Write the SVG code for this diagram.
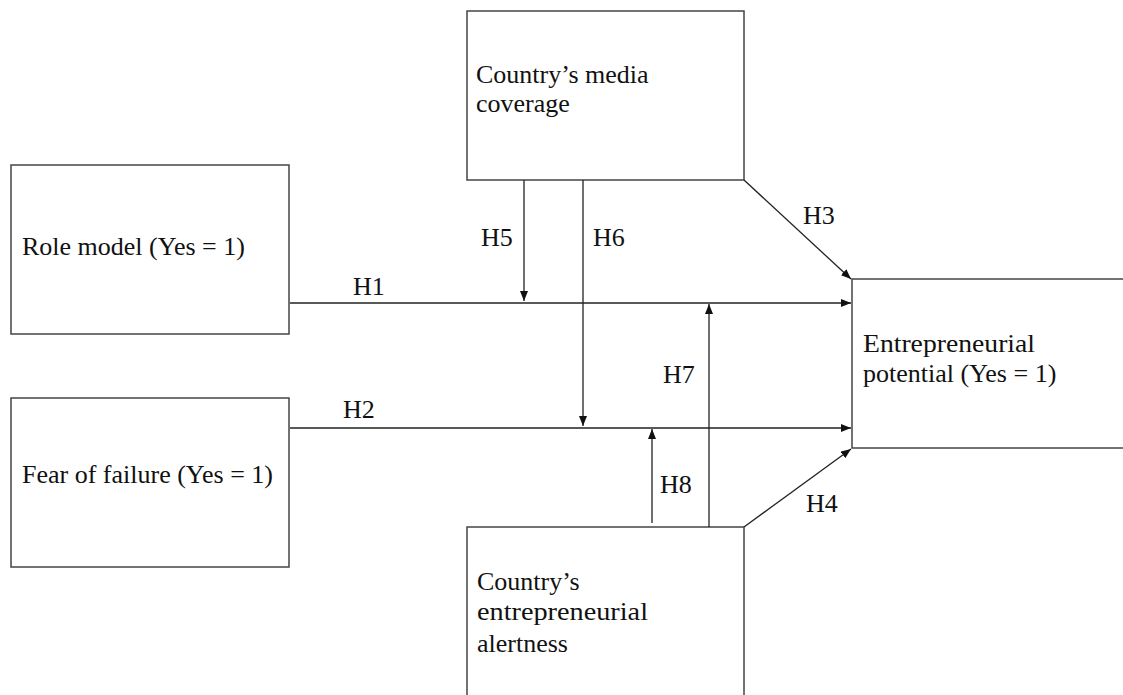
<svg xmlns="http://www.w3.org/2000/svg" width="1123" height="695" viewBox="0 0 1123 695">
<style>
.box{fill:#fff;stroke:#444;stroke-width:1.5}
.lbl{font-family:"Liberation Serif","Times New Roman",serif;font-size:26px;fill:#111}
.con{stroke:#222;stroke-width:1.3;fill:none}
.arr{marker-end:url(#ah)}
</style>
<defs>
<marker id="ah" markerUnits="userSpaceOnUse" markerWidth="10" markerHeight="8" refX="10" refY="4" orient="auto">
<path d="M0,0 L10,4 L0,8 z" fill="#111"/>
</marker>
</defs>
<rect width="1123" height="695" fill="#fff"/>
<g id="node-media">
<rect class="box" x="467" y="11" width="277" height="169"/>
<text class="lbl" x="476" y="83">Country’s media</text>
<text class="lbl" x="476" y="112">coverage</text>
</g>
<g id="node-role">
<rect class="box" x="11" y="165" width="278" height="169"/>
<text class="lbl" x="22" y="255">Role model (Yes = 1)</text>
</g>
<g id="node-fear">
<rect class="box" x="11" y="398" width="278" height="169"/>
<text class="lbl" x="22" y="483">Fear of failure (Yes = 1)</text>
</g>
<g id="node-potential">
<rect class="box" x="852" y="279" width="290" height="169"/>
<text class="lbl" x="863" y="352" textLength="172" lengthAdjust="spacingAndGlyphs">Entrepreneurial</text>
<text class="lbl" x="863" y="382">potential (Yes = 1)</text>
</g>
<g id="node-alertness">
<rect class="box" x="467" y="527" width="277" height="190"/>
<text class="lbl" x="477" y="590">Country’s</text>
<text class="lbl" x="477" y="620" textLength="171" lengthAdjust="spacingAndGlyphs">entrepreneurial</text>
<text class="lbl" x="477" y="652">alertness</text>
</g>
<g id="connectors">
<line class="con arr" x1="290" y1="303" x2="851" y2="303"/>
<line class="con arr" x1="290" y1="428" x2="851" y2="428"/>
<line class="con arr" x1="744" y1="180" x2="851" y2="279"/>
<line class="con arr" x1="744" y1="527" x2="851" y2="449"/>
<line class="con arr" x1="524" y1="180" x2="524" y2="301"/>
<line class="con arr" x1="583" y1="180" x2="583" y2="426"/>
<line class="con arr" x1="709" y1="527" x2="709" y2="304"/>
<line class="con arr" x1="652" y1="523" x2="652" y2="429"/>
<text class="lbl" x="353" y="295">H1</text>
<text class="lbl" x="343" y="418">H2</text>
<text class="lbl" x="803" y="224">H3</text>
<text class="lbl" x="806" y="512">H4</text>
<text class="lbl" x="481" y="246">H5</text>
<text class="lbl" x="593" y="246">H6</text>
<text class="lbl" x="663" y="383">H7</text>
<text class="lbl" x="660" y="493">H8</text>
</g>
</svg>
